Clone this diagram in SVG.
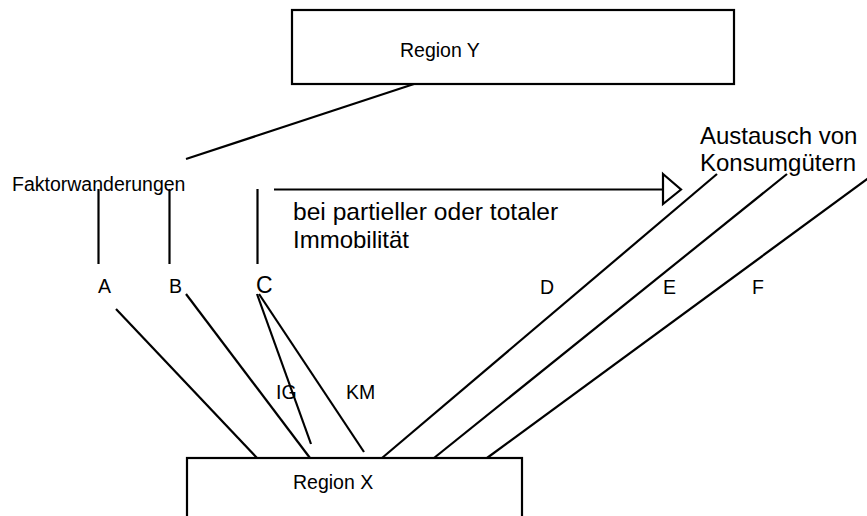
<svg xmlns="http://www.w3.org/2000/svg" width="867" height="516" viewBox="0 0 867 516">
<defs>
<style>
text { font-family: "Liberation Sans", Arial, sans-serif; fill: #000; }
.box { fill: #fff; stroke: #000; stroke-width: 2.2; }
.ln { stroke: #000; stroke-width: 2.2; fill: none; stroke-linecap: butt; }
.t20 { font-size: 19.5px; }
.t24 { font-size: 24px; }
</style>
</defs>
<rect width="867" height="516" fill="#fff"/>
<g id="regionY">
<rect class="box" x="292" y="10" width="442" height="74"/>
<text class="t20" x="400" y="57">Region Y</text>
</g>
<g id="regionX">
<rect class="box" x="187" y="458" width="335" height="80"/>
<text class="t20" x="293" y="489">Region X</text>
</g>
<g id="faktorwanderungen">
<text class="t20" x="12" y="191">Faktorwanderungen</text>
</g>
<g id="immobilitaet">
<text x="293" y="220" style="font-size:24.6px">bei partieller oder totaler</text>
<text class="t24" x="293" y="248">Immobilität</text>
</g>
<g id="austausch">
<text class="t24" x="700" y="144">Austausch von</text>
<text class="t24" x="700" y="171">Konsumgütern</text>
</g>
<g id="nodeA"><text class="t20" x="98" y="293">A</text></g>
<g id="nodeB"><text class="t20" x="169" y="293">B</text></g>
<g id="nodeC"><text x="256" y="293" style="font-size:23px">C</text></g>
<g id="nodeD"><text class="t20" x="540" y="294">D</text></g>
<g id="nodeE"><text class="t20" x="663" y="294">E</text></g>
<g id="nodeF"><text class="t20" x="752" y="294">F</text></g>
<g id="labelIG"><text class="t20" x="276" y="399">IG</text></g>
<g id="labelKM"><text class="t20" x="346" y="399">KM</text></g>
<g id="connectors">
<line class="ln" x1="414" y1="84" x2="186" y2="159"/>
<line class="ln" x1="98.5" y1="189" x2="98.5" y2="264"/>
<line class="ln" x1="169.5" y1="189" x2="169.5" y2="264"/>
<line class="ln" x1="257.5" y1="189" x2="257.5" y2="264"/>
<line class="ln" x1="274" y1="189.5" x2="663" y2="189.5"/>
<polygon class="box" points="663,174 681,189.5 663,204"/>
<line class="ln" x1="116" y1="309" x2="257" y2="458"/>
<line class="ln" x1="186" y1="294" x2="310" y2="458"/>
<line class="ln" x1="257" y1="294" x2="311" y2="444"/>
<line class="ln" x1="259" y1="294" x2="364" y2="452"/>
<line class="ln" x1="382" y1="458" x2="717" y2="174"/>
<line class="ln" x1="434" y1="458" x2="787" y2="174"/>
<line class="ln" x1="487" y1="458" x2="870" y2="177"/>
</g>
</svg>
